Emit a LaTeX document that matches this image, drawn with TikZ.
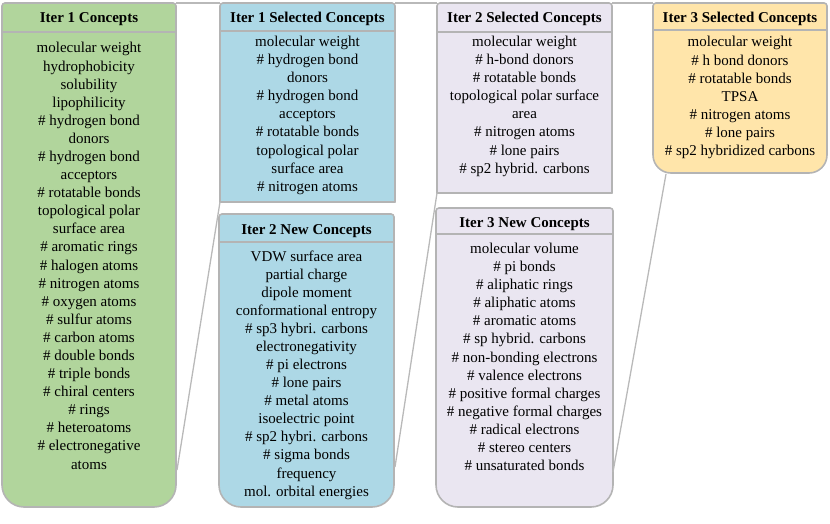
\documentclass[tikz,border=0pt]{standalone}
\usepackage{fontspec}
\setmainfont{Liberation Serif}
\definecolor{boxgrey}{RGB}{180,180,180}
\definecolor{linegrey}{RGB}{185,185,185}
\definecolor{itergreen}{RGB}{177,213,156}
\definecolor{iterblue}{RGB}{173,216,230}
\definecolor{iterlilac}{RGB}{234,230,241}
\definecolor{iteryellow}{RGB}{255,229,170}
\tikzset{
    boxline/.style={draw=boxgrey, line width=1.6pt},
    funnel/.style={draw=linegrey, line width=1.3pt},
    head/.style={font=\fontsize{15}{18}\bfseries, anchor=base, inner sep=0pt},
    item/.style={font=\fontsize{15}{18}\selectfont, anchor=base, inner sep=0pt},
}
\newcommand{\conceptbox}[8]{
    \pgfmathsetmacro{\bxa}{#2}
    \pgfmathsetmacro{\bya}{#3}
    \pgfmathsetmacro{\bxb}{#4}
    \pgfmathsetmacro{\byb}{#5}
    \pgfmathsetmacro{\bys}{#6}
    \pgfmathsetmacro{\brad}{#7}
    \filldraw[boxline, fill=#8] (\bxa, \bya + 3) arc[start angle=180, end angle=270, radius=3]
        -- (\bxb - 3, \bya) arc[start angle=270, end angle=360, radius=3]
        -- (\bxb, \byb - \brad) arc[start angle=0, end angle=90, radius=\brad]
        -- (\bxa + \brad, \byb) arc[start angle=90, end angle=180, radius=\brad] -- cycle;
    \draw[boxline] (\bxa, \bys) -- (\bxb, \bys);
    \coordinate (#1-nw) at (\bxa, \bya);
    \coordinate (#1-ne) at (\bxb, \bya);
    \coordinate (#1-sw) at (\bxa, \byb);
    \coordinate (#1-se) at (\bxb, \byb);
}

\begin{document}
\begin{tikzpicture}[x=1pt, y=-1pt]
    \useasboundingbox (0, 0) rectangle (830, 524);
    % where the funnel lines leave the boxes
    \coordinate (green-tail) at (177, 470);
    \coordinate (new2-tail) at (395, 467);
    \coordinate (new3-tail) at (613, 472);
    \coordinate (sel3-foot) at (666, 174);
    % boxes
    \conceptbox{green}{2}{3}{176}{507}{32}{22}{itergreen}
    \conceptbox{sel1}{220}{3}{395}{202}{31}{0.01}{iterblue}
    \conceptbox{new2}{219}{214}{394}{507}{242}{22}{iterblue}
    \conceptbox{sel2}{437}{3}{612}{193}{32}{0.01}{iterlilac}
    \conceptbox{new3}{436}{208}{613}{507}{234}{22}{iterlilac}
    \conceptbox{sel3}{653}{3}{827}{173}{30}{18}{iteryellow}
    \draw[funnel] (green-ne) -- (sel1-nw);
    \draw[funnel] (green-tail) -- (sel1-sw);
    \draw[funnel] (sel1-ne) -- (sel2-nw);
    \draw[funnel] (new2-tail) -- (sel2-sw);
    \draw[funnel] (sel2-ne) -- (sel3-nw);
    \draw[funnel] (new3-tail) -- (sel3-foot);
    % headers
    \node[head] (green-head) at (89, 23) {Iter 1 Concepts};
    \node[head] (sel1-head) at (307.5, 22.5) {Iter 1 Selected Concepts};
    \node[head] (new2-head) at (306.5, 234) {Iter 2 New Concepts};
    \node[head] (sel2-head) at (524.5, 23) {Iter 2 Selected Concepts};
    \node[head] (new3-head) at (524.5, 227) {Iter 3 New Concepts};
    \node[head] (sel3-head) at (740, 22.5) {Iter 3 Selected Concepts};
    % concept lists
    \foreach \txt [count=\i] in {molecular weight, hydrophobicity, solubility, lipophilicity,
        \# hydrogen bond, donors, \# hydrogen bond, acceptors, \# rotatable bonds,
        topological polar, surface area, \# aromatic rings, \# halogen atoms,
        \# nitrogen atoms, \# oxygen atoms, \# sulfur atoms, \# carbon atoms,
        \# double bonds, \# triple bonds, \# chiral centers, \# rings,
        \# heteroatoms, \# electronegative, atoms}
        \node[item] (green-\i) at (89, {53 + 18.09*(\i-1)}) {\txt};
    \foreach \txt [count=\i] in {molecular weight, \# hydrogen bond, donors,
        \# hydrogen bond, acceptors, \# rotatable bonds, topological polar,
        surface area, \# nitrogen atoms}
        \node[item] (sel1-\i) at (307.5, {46.5 + 18.09*(\i-1)}) {\txt};
    \foreach \txt [count=\i] in {VDW surface area, partial charge, dipole moment,
        conformational entropy, \# sp3 hybri. carbons, electronegativity,
        \# pi electrons, \# lone pairs, \# metal atoms, isoelectric point,
        \# sp2 hybri. carbons, \# sigma bonds, frequency, mol. orbital energies}
        \node[item] (new2-\i) at (306.5, {261 + 18.09*(\i-1)}) {\txt};
    \foreach \txt [count=\i] in {molecular weight, \# h-bond donors,
        \# rotatable bonds, topological polar surface, area, \# nitrogen atoms,
        \# lone pairs, \# sp2 hybrid. carbons}
        \node[item] (sel2-\i) at (524.5, {46.5 + 18.09*(\i-1)}) {\txt};
    \foreach \txt [count=\i] in {molecular volume, \# pi bonds, \# aliphatic rings,
        \# aliphatic atoms, \# aromatic atoms, \# sp hybrid. carbons,
        \# non-bonding electrons, \# valence electrons, \# positive formal charges,
        \# negative formal charges, \# radical electrons, \# stereo centers,
        \# unsaturated bonds}
        \node[item] (new3-\i) at (524.5, {253.5 + 18.09*(\i-1)}) {\txt};
    \foreach \txt [count=\i] in {molecular weight, \# h bond donors,
        \# rotatable bonds, TPSA, \# nitrogen atoms, \# lone pairs,
        \# sp2 hybridized carbons}
        \node[item] (sel3-\i) at (740, {47 + 18.09*(\i-1)}) {\txt};
\end{tikzpicture}
\end{document}
